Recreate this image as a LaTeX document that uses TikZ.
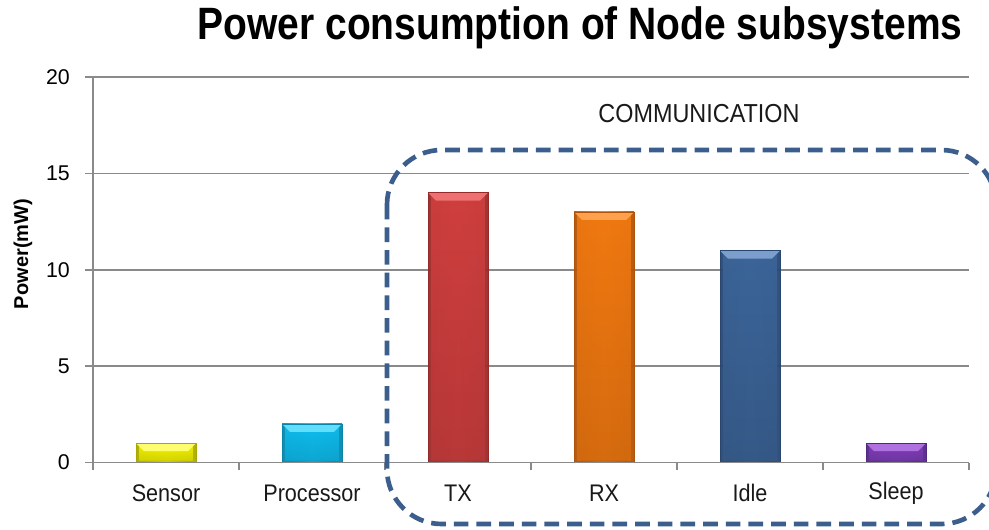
\documentclass[tikz,border=0pt]{standalone}
\usepackage{fontspec}
\setmainfont{Liberation Sans}
\newfontfamily\titlefont[FakeStretch=0.86]{Liberation Sans}
\newfontfamily\labelfont[FakeStretch=0.9]{Liberation Sans}

\definecolor{gridgray}{HTML}{8A8A8A}
\definecolor{boxblue}{HTML}{3B5E8C}

% bar palettes: light / base / dark
\definecolor{sensL}{HTML}{FFFF80}\definecolor{sensB}{HTML}{F0F000}\definecolor{sensD}{HTML}{A8A800}
\definecolor{procL}{HTML}{70E4FF}\definecolor{procB}{HTML}{0EBBEC}\definecolor{procD}{HTML}{0785AA}
\definecolor{txL}{HTML}{F27A7A}\definecolor{txB}{HTML}{CF3E3E}\definecolor{txD}{HTML}{962A2A}
\definecolor{rxL}{HTML}{FFA85A}\definecolor{rxB}{HTML}{F07810}\definecolor{rxD}{HTML}{B05208}
\definecolor{idL}{HTML}{86A8D6}\definecolor{idB}{HTML}{3B6498}\definecolor{idD}{HTML}{284670}
\definecolor{slL}{HTML}{B67AE6}\definecolor{slB}{HTML}{7E3CB6}\definecolor{slD}{HTML}{532686}

\tikzset{
  grid line/.style={draw=gridgray, line width=1.1pt},
  axis tick/.style={draw=gridgray, line width=1.1pt},
  tick label/.style={font=\fontsize{16}{19}\selectfont, text=black, inner sep=0pt},
  cat label/.style={font=\labelfont\fontsize{18}{21}\selectfont, text=black!90, inner sep=0pt},
  group box/.style={draw=boxblue, line width=3.5pt, dash pattern=on 11pt off 6pt, rounded corners=41pt},
}

\begin{document}
\begin{tikzpicture}[x=0.75pt,y=-0.75pt]
\useasboundingbox (0,0) rectangle (989,529);
\fill[white] (0,0) rectangle (989,529);

% value axis: gridlines, ticks, labels
\foreach \v in {0,5,10,15,20}{
  \pgfmathsetmacro{\yy}{462.5-\v*19.27}
  \draw[grid line] (85,\yy) -- (969,\yy);
  \node[tick label, anchor=east] (ytick\v) at (70,\yy) {\v};
}
\draw[axis tick] (93,77) -- (93,462.5);

% category ticks below the axis
\foreach \k in {0,...,6}{
  \draw[axis tick] ({93+146*\k},462.5) -- ({93+146*\k},470);
}

% bars with bevelled tops
\foreach \i/\val/\nm in {0/1/sens,1/2/proc,2/14/tx,3/13/rx,4/11/id,5/1/sl}{
  \pgfmathsetmacro{\xl}{136+146*\i}
  \pgfmathsetmacro{\xr}{\xl+60}
  \pgfmathsetmacro{\yt}{462.5-\val*19.27}
  \shade[left color=\nm D, right color=\nm D, middle color=\nm B, fill opacity=0.95]
    (\xl,\yt) rectangle (\xr,462.5);
  \shade[top color=\nm B, bottom color=\nm B!88!black, opacity=0.92] (\xl+3.5,\yt+3) rectangle (\xr-3.5,462.5-2);
  \fill[\nm L!85!\nm B] (\xl,\yt) -- (\xr,\yt) -- (\xr-8,\yt+8) -- (\xl+8,\yt+8) -- cycle;
  \fill[\nm D, opacity=0.45] (\xl+8,462.5-2) -- (\xr-8,462.5-2) -- (\xr,462.5) -- (\xl,462.5) -- cycle;
  \draw[\nm D, line width=0.5pt] (\xl,\yt) rectangle (\xr,462.5);
}
\draw[grid line] (93,462.5) -- (969,462.5);

% category labels
\foreach \i/\txt in {0/Sensor,1/Processor,2/TX,3/RX,4/Idle,5/Sleep}{
  \node[cat label] (cat\i) at ({166+146*\i},493) {\txt};
}

% axis title and chart title
\node[rotate=90, font=\bfseries\fontsize{15}{18}\selectfont, inner sep=0pt] (ytitle) at (23,254) {Power(mW)};
\node[font=\titlefont\bfseries\fontsize{34}{40}\selectfont, inner sep=0pt] (title) at (580,28) {Power consumption of Node subsystems};

% communication group
\node[font=\labelfont\fontsize{19.5}{23}\selectfont, text=black!90, inner sep=0pt] (commlabel) at (699,114) {COMMUNICATION};
\draw[group box] (387,150) rectangle (996,524);
\end{tikzpicture}
\end{document}
